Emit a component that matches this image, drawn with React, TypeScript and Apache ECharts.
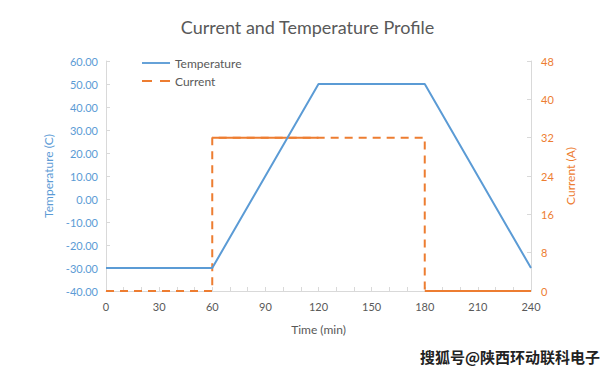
import React, { useEffect, useRef } from "react";
import * as echarts from "echarts";

const timeMin = [0, 60, 120, 180, 240];
const temperature = [-30, -30, 50, 50, -30];
const currentTime = [0, 60, 60, 120, 180, 180, 240];
const currentVals = [0, 0, 32, 32, 32, 0, 0];
// segments rendered solid in the reference (Excel rendering)
const currentSolidTime = [60, 120, 180, 240];
const currentSolidVals = [32, 32, 0, 0];

const BLUE = "#5B9BD5";
const ORANGE = "#ED7D31";
const GREY = "#595959";
const FONT = "Lato";

export default function App() {
  const ref = useRef<HTMLDivElement>(null);
  useEffect(() => {
    const chart = echarts.init(ref.current!, null, { renderer: "svg" });
    chart.setOption({
      animation: false,
      backgroundColor: "#fff",
      title: {
        text: "Current and Temperature Profile",
        left: "center",
        top: 13,
        textStyle: { fontFamily: FONT, fontSize: 18, fontWeight: "normal", color: GREY },
      },
      legend: {
        orient: "vertical",
        left: 137,
        top: 52,
        itemWidth: 28,
        itemHeight: 10,
        itemGap: 6,
        textStyle: { fontFamily: FONT, fontSize: 12, color: GREY },
        data: [
          { name: "Temperature", icon: "path://M0,4 L30,4 L30,6 L0,6 Z" },
          { name: "Current", icon: "path://M0,4 L10,4 L10,6 L0,6 Z M18,4 L28,4 L28,6 L18,6 Z" },
        ],
      },
      grid: { left: 106, right: 84, top: 61, bottom: 87 },
      xAxis: {
        type: "value",
        min: 0,
        max: 240,
        interval: 10,
        name: "Time (min)",
        nameLocation: "middle",
        nameGap: 32,
        nameTextStyle: { fontFamily: FONT, fontSize: 12, color: GREY },
        axisLine: { onZero: false, lineStyle: { color: "#D9D9D9" } },
        axisTick: { inside: true, length: 4, lineStyle: { color: "#D9D9D9" } },
        splitLine: { show: false },
        axisLabel: {
          fontFamily: FONT,
          fontSize: 11,
          color: GREY,
          margin: 10,
          formatter: (v: number) => (v % 30 === 0 ? String(v) : ""),
        },
      },
      yAxis: [
        {
          type: "value",
          min: -40,
          max: 60,
          interval: 10,
          name: "Temperature (C)",
          nameLocation: "middle",
          nameGap: 50,
          nameTextStyle: { fontFamily: FONT, fontSize: 12, color: BLUE },
          axisLine: { show: true, onZero: false, lineStyle: { color: "#D9D9D9" } },
          axisTick: { show: true, inside: true, length: 4, lineStyle: { color: "#D9D9D9" } },
          splitLine: { show: false },
          axisLabel: {
            fontFamily: FONT,
            fontSize: 11,
            color: BLUE,
            margin: 8,
            formatter: (v: number) => v.toFixed(2),
          },
        },
        {
          type: "value",
          min: 0,
          max: 48,
          interval: 8,
          position: "right",
          name: "Current (A)",
          nameLocation: "middle",
          nameGap: 31,
          nameTextStyle: { fontFamily: FONT, fontSize: 12, color: ORANGE },
          axisLine: { show: true, onZero: false, lineStyle: { color: "#D9D9D9" } },
          axisTick: { show: true, inside: true, length: 4, lineStyle: { color: "#D9D9D9" } },
          splitLine: { show: false },
          axisLabel: { fontFamily: FONT, fontSize: 11, color: ORANGE, margin: 10 },
        },
      ],
      series: [
        {
          name: "Temperature",
          type: "line",
          yAxisIndex: 0,
          showSymbol: false,
          data: timeMin.map((t, i) => [t, temperature[i]]),
          lineStyle: { color: BLUE, width: 2 },
          itemStyle: { color: BLUE },
          z: 3,
        },
        {
          name: "Current",
          type: "line",
          yAxisIndex: 1,
          showSymbol: false,
          data: currentTime.map((t, i) => [t, currentVals[i]]),
          lineStyle: { color: ORANGE, width: 2, type: [8, 6] },
          itemStyle: { color: ORANGE },
          z: 2,
        },
        {
          name: "CurrentSolid",
          type: "line",
          yAxisIndex: 1,
          showSymbol: false,
          data: [
            [currentSolidTime[0], currentSolidVals[0]],
            [currentSolidTime[1], currentSolidVals[1]],
            [null, null],
            [currentSolidTime[2], currentSolidVals[2]],
            [currentSolidTime[3], currentSolidVals[3]],
          ],
          connectNulls: false,
          lineStyle: { color: ORANGE, width: 2 },
          itemStyle: { color: ORANGE },
          z: 2,
        },
      ],
      graphic: [
        {
          type: "text",
          right: 14,
          top: 348,
          style: {
            text: "搜狐号@陕西环动联科电子",
            font: "bold 15px 'Noto Sans CJK SC'",
            fill: "#222",
            stroke: "#fff",
            lineWidth: 2,
          },
        },
      ],
    });
    return () => chart.dispose();
  }, []);
  return <div ref={ref} style={{ width: 615, height: 378, margin: -8 }} />;
}
